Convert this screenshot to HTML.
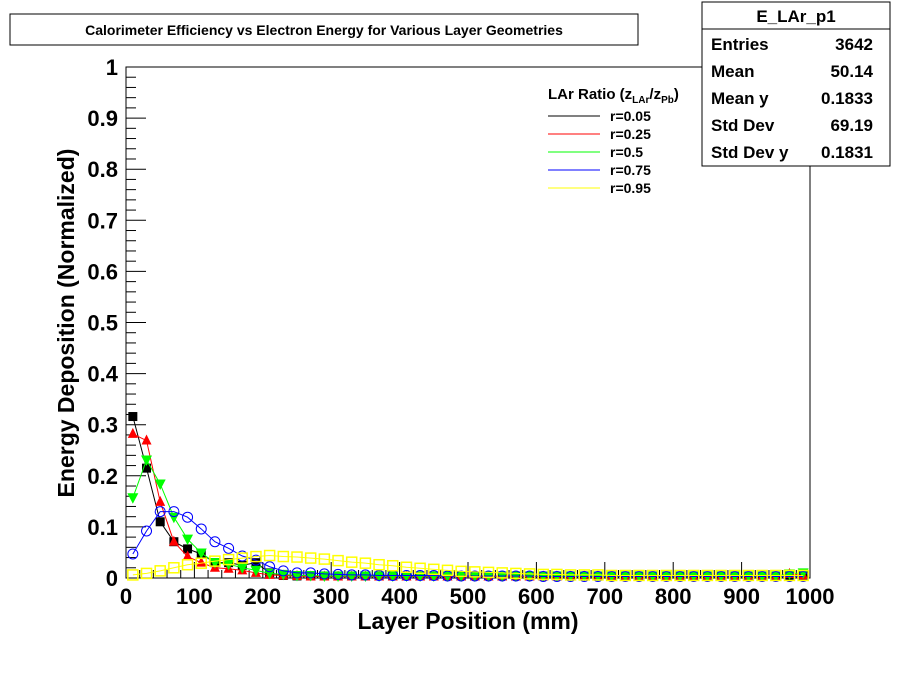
<!DOCTYPE html>
<html><head><meta charset="utf-8"><style>
body{margin:0;background:#fff;font-family:"Liberation Sans",Arial,sans-serif}
svg text{font-family:"Liberation Sans",Arial,sans-serif}
</style></head><body>
<svg id="c" width="900" height="675" xmlns="http://www.w3.org/2000/svg">
<rect width="900" height="675" fill="#fff"/>
<g>
<rect x="10" y="14" width="628" height="31" fill="#fff" stroke="#000"/>
<text x="324" y="35" text-anchor="middle" font-size="14" font-weight="bold">Calorimeter Efficiency vs Electron Energy for Various Layer Geometries</text>
</g>
<rect x="126" y="67" width="684" height="511" fill="none" stroke="#000"/>
<g id="axes"></g>
<g id="marks"></g>
<text x="468" y="629" text-anchor="middle" font-size="23" font-weight="bold">Layer Position (mm)</text>
<text transform="translate(74,323) rotate(-90)" text-anchor="middle" font-size="23" font-weight="bold">Energy Deposition (Normalized)</text>
<g font-size="14" font-weight="bold">
<text x="548" y="99" font-size="15">LAr Ratio (z<tspan font-size="10" dy="4">LAr</tspan><tspan dy="-4">/z</tspan><tspan font-size="10" dy="4">Pb</tspan><tspan dy="-4">)</tspan></text>
<line x1="548" y1="116" x2="600" y2="116" stroke="#000"/><text x="610" y="121">r=0.05</text>
<line x1="548" y1="134" x2="600" y2="134" stroke="#f00"/><text x="610" y="139">r=0.25</text>
<line x1="548" y1="152" x2="600" y2="152" stroke="#0f0"/><text x="610" y="157">r=0.5</text>
<line x1="548" y1="170" x2="600" y2="170" stroke="#00f"/><text x="610" y="175">r=0.75</text>
<line x1="548" y1="188" x2="600" y2="188" stroke="#ff0"/><text x="610" y="193">r=0.95</text>
</g>
<g font-size="17" font-weight="bold">
<rect x="702" y="2" width="188" height="164" fill="#fff" stroke="#000"/>
<line x1="702" y1="29" x2="890" y2="29" stroke="#000"/>
<text x="796" y="22" text-anchor="middle">E_LAr_p1</text>
<text x="711" y="50">Entries</text><text x="873" y="50" text-anchor="end">3642</text>
<text x="711" y="77">Mean</text><text x="873" y="77" text-anchor="end">50.14</text>
<text x="711" y="104">Mean y</text><text x="873" y="104" text-anchor="end">0.1833</text>
<text x="711" y="131">Std Dev</text><text x="873" y="131" text-anchor="end">69.19</text>
<text x="711" y="158">Std Dev y</text><text x="873" y="158" text-anchor="end">0.1831</text>
</g>
</svg>
<script>
const xPos=[];for(let i=0;i<50;i++)xPos.push(10+20*i);
const black=[0.316,0.215,0.11,0.071,0.057,0.047,0.03,0.03,0.025,0.03,0.01,0.005,0.004,0.004,0.004,0.004,0.004,0.004,0.004,0.004,0.004,0.004,0.004,0.004,0.004,0.004,0.004,0.004,0.004,0.004,0.004,0.004,0.004,0.004,0.004,0.004,0.004,0.004,0.004,0.004,0.004,0.004,0.004,0.004,0.004,0.004,0.004,0.004,0.004,0.005];
const red=[0.282,0.269,0.149,0.071,0.042,0.03,0.02,0.018,0.015,0.01,0.006,0.005,0.004,0.003,0.003,0.003,0.003,0.003,0.003,0.003,0.003,0.003,0.003,0.003,0.003,0.003,0.003,0.003,0.003,0.003,0.003,0.003,0.003,0.003,0.003,0.003,0.003,0.003,0.003,0.003,0.003,0.003,0.003,0.003,0.003,0.003,0.003,0.003,0.008,0.005];
const green=[0.157,0.231,0.184,0.119,0.076,0.049,0.03,0.027,0.02,0.015,0.009,0.007,0.005,0.005,0.004,0.004,0.004,0.004,0.004,0.004,0.004,0.004,0.004,0.004,0.004,0.004,0.004,0.004,0.004,0.004,0.004,0.004,0.004,0.004,0.004,0.004,0.004,0.004,0.004,0.004,0.004,0.004,0.004,0.004,0.004,0.004,0.004,0.004,0.008,0.01];
const blue=[0.047,0.092,0.13,0.13,0.119,0.096,0.071,0.058,0.043,0.035,0.022,0.014,0.01,0.01,0.008,0.007,0.006,0.006,0.005,0.005,0.005,0.005,0.005,0.004,0.004,0.004,0.004,0.004,0.004,0.004,0.003,0.003,0.003,0.003,0.003,0.003,0.003,0.003,0.003,0.003,0.003,0.003,0.003,0.003,0.003,0.003,0.003,0.003,0.003,0.003];
const yellow=[0.006,0.009,0.014,0.02,0.026,0.029,0.033,0.036,0.039,0.042,0.044,0.042,0.041,0.039,0.037,0.034,0.031,0.029,0.026,0.024,0.021,0.019,0.017,0.015,0.013,0.012,0.011,0.01,0.009,0.008,0.007,0.007,0.006,0.006,0.006,0.005,0.005,0.005,0.005,0.005,0.005,0.005,0.005,0.005,0.005,0.005,0.005,0.005,0.005,0.005];
const xTicks=[0,100,200,300,400,500,600,700,800,900,1000];
const yTicks=[0,0.1,0.2,0.3,0.4,0.5,0.6,0.7,0.8,0.9,1];
const NS="http://www.w3.org/2000/svg";
const X=v=>126+v*0.684, Y=v=>578-v*511;
function mk(t,a,p){const e=document.createElementNS(NS,t);for(const k in a)e.setAttribute(k,a[k]);p.appendChild(e);return e;}
const ax=document.getElementById('axes');
for(let v=0;v<=1000;v+=20){const l=mk('line',{x1:X(v),x2:X(v),y1:578,y2:578-(v%100===0?16:8),stroke:'#000'},ax);

}
for(let i=0;i<=50;i++){const v=i*0.02;const l=mk('line',{x1:126,x2:126+(i%5===0?20:10),y1:Y(v),y2:Y(v),stroke:'#000'},ax);

}
xTicks.forEach(v=>{const t=mk('text',{x:X(v),y:604,'text-anchor':'middle','font-size':'22','font-weight':'bold'},ax);t.textContent=v;

});
yTicks.forEach(v=>{const t=mk('text',{x:118,y:Y(v)+8,'text-anchor':'end','font-size':'22','font-weight':'bold'},ax);t.textContent=String(v);

});
const mg=document.getElementById('marks');
const series=[[black,'#000','sq'],[red,'#f00','tri-up'],[green,'#0f0','tri-down'],[blue,'#00f','circ'],[yellow,'#ff0','sq-open']];
series.forEach(([d,c,m])=>{
 const g=mk('g',{},mg);
 
 
 mk('polyline',{points:d.map((v,i)=>X(xPos[i])+','+Y(v)).join(' '),fill:'none',stroke:c,'stroke-width':1},g);
 d.forEach((v,i)=>{const x=X(xPos[i]),y=Y(v);let e;
  if(m==='sq')e=mk('rect',{x:x-4.5,y:y-4.5,width:9,height:9,fill:c},g);
  else if(m==='sq-open')e=mk('rect',{x:x-5,y:y-5,width:10,height:10,fill:'none',stroke:c,'stroke-width':1.5},g);
  else if(m==='circ')e=mk('circle',{cx:x,cy:y,r:5,fill:'none',stroke:c,'stroke-width':1},g);
  else if(m==='tri-up')e=mk('polygon',{points:`${x},${y-6} ${x-5},${y+4} ${x+5},${y+4}`,fill:c},g);
  else e=mk('polygon',{points:`${x},${y+6} ${x-5.5},${y-4.5} ${x+5.5},${y-4.5}`,fill:c},g);
  
  
 });
});
</script>
</body></html>
